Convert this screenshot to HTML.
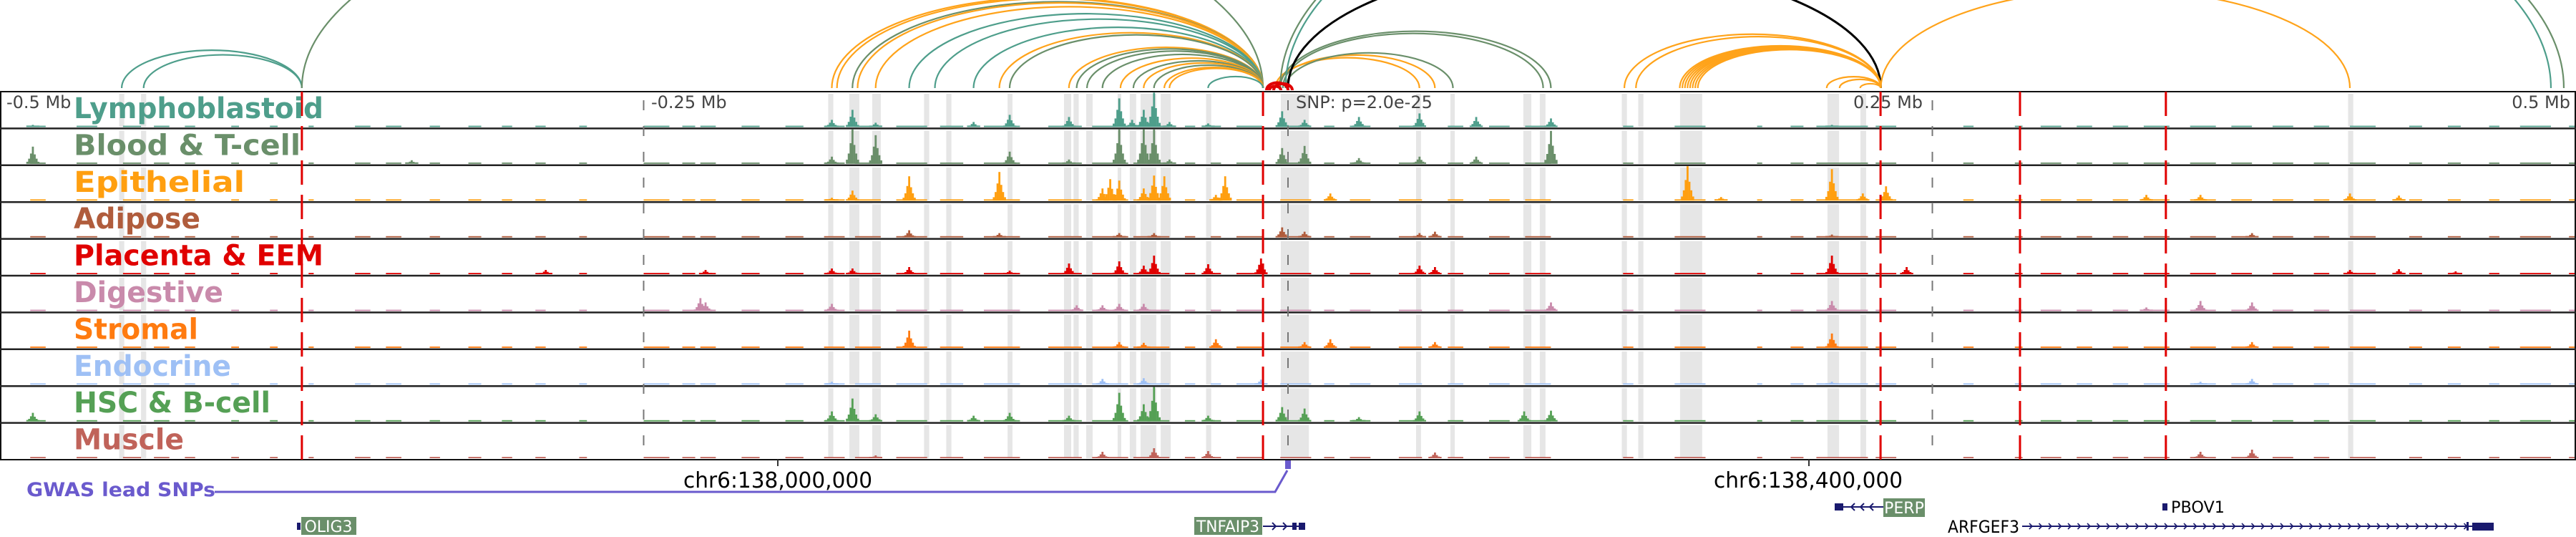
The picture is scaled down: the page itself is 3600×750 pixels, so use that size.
<!DOCTYPE html>
<html><head><meta charset="utf-8">
<style>
html,body{margin:0;padding:0;background:#fff;}
svg{display:block;}
text{font-family:"DejaVu Sans","Liberation Sans",sans-serif;}
</style></head>
<body>
<svg id="fig" width="3600" height="750" viewBox="0 0 3600 750" xmlns="http://www.w3.org/2000/svg">
  <g id="bands"></g>
  <g id="arcs"></g>
  <g id="tracks"></g>
  <g id="frame"></g>
  <g id="labels"></g>
  <g id="genes"></g>
</svg>
<script>
// ---------- data ----------
const trackNames = ["Lymphoblastoid","Blood & T-cell","Epithelial","Adipose","Placenta & EEM","Digestive","Stromal","Endocrine","HSC & B-cell","Muscle"];
const trackColors = ["#4e9e8b","#6a8f6a","#ff9f10","#b05c3c","#e00000","#c98aab","#ff7b10","#9ec0f5","#55a055","#c0635a"];
const labelWidths = [349,317,239,177,349,209,174,220,275,154];
// peaks: [kb offset from SNP, height px]
const peaksLympho = [[-487,3],[-177,10],[-169,24],[-160,6],[-122,7],[-108,17],[-85,14],[-65.5,40],[-60.5,10],[-56,24],[-52,48],[-46,7],[-31,5],[-2.3,22],[6.4,10],[27.5,14],[51,19],[73,14],[102,12],[211,3]];
const peaksBlood = [[-487,24],[-340,5],[-177,10],[-169,48],[-160,40],[-108,17],[-85,6],[-65.5,48],[-56,48],[-52,48],[-46,6],[-2.3,22],[6.4,25],[27.5,8],[51,10],[73,10],[102,46]];
const peaksEpi = [[-177,4],[-169,14],[-147,34],[-112,40],[-72,17],[-69,30],[-65.5,28],[-56,17],[-52,35],[-48,34],[-28,8],[-24.4,34],[16.4,10],[155,48],[168,5],[211,44],[223,10],[232,20],[333,8],[354,8],[412,10],[431,7]];
const peaksAdipose = [[-147,10],[-112,6],[-65.5,6],[-52,6],[-2.3,14],[6.4,8],[51,6],[57,8],[211,4],[374,6]];
const peaksPlacenta = [[-288,6],[-226,6],[-177,8],[-169,8],[-147,10],[-108,5],[-85,15],[-65.5,18],[-56,12],[-52,26],[-31,14],[-10.5,22],[51,12],[57,10],[211,26],[240,10],[412,6],[431,7],[453,4]];
const peaksDigestive = [[-228,18],[-226,12],[-177,10],[-82,8],[-72,8],[-65.5,10],[-56,10],[102,12],[211,14],[333,5],[354,14],[374,12]];
const peaksStromal = [[-147,24],[-65.5,8],[-56,7],[-28,12],[6.4,8],[16.4,12],[57,8],[211,20],[374,8]];
const peaksEndocrine = [[-177,4],[-72,8],[-56,9],[-10.5,7],[211,4],[354,4],[374,8]];
const peaksHSC = [[-487,12],[-177,14],[-169,32],[-160,10],[-122,8],[-108,12],[-85,8],[-65.5,40],[-56,24],[-52,48],[-31,8],[-2.3,20],[6.4,18],[27.5,6],[51,14],[91.6,14],[102,15]];
const peaksMuscle = [[-160,4],[-72,9],[-52,14],[-31,10],[57,8],[354,9],[374,12]];
const trackPeaks = [peaksLympho,peaksBlood,peaksEpi,peaksAdipose,peaksPlacenta,peaksDigestive,peaksStromal,peaksEndocrine,peaksHSC,peaksMuscle];
// low-level coverage spans [startKb, endKb]
const coverageSpans = [[-488,-482],[-470,-462],[-452,-445],[-440,-434],[-428,-424],[-410,-407],[-395,-392],[-380,-378],[-362,-356],[-350,-344],[-333,-329],[-318,-313],[-305,-301],[-292,-288],[-275,-272],[-250,-240],[-235,-230],[-228,-222],[-212,-205],[-195,-188],[-180,-172],[-168,-158],[-152,-140],[-135,-126],[-118,-104],[-93,-80],[-76,-62],[-60,-46],[-40,-36],[-30,-26],[-20,-10],[-3,9],[14,18],[24,32],[43,52],[62,68],[78,86],[92,102],[130,134],[150,162],[182,184],[195,200],[205,225],[228,236],[262,266],[282,285],[292,300],[306,312],[320,326],[332,342],[350,360],[366,374],[382,390],[398,404],[412,422],[435,440],[450,455],[466,470],[478,490],[497,500]];
// gray highlight bands [startKb, endKb]
const bandsKb = [[-453.5,-451.5],[-445,-443],[-178.4,-176.4],[-170.2,-166.3],[-161.3,-158],[-141.2,-139.2],[-132.6,-130.6],[-108.8,-106.9],[-86.9,-84.1],[-83.2,-81.2],[-78.3,-75.8],[-66.1,-64.7],[-61.4,-58.9],[-57.2,-51.1],[-49.4,-45.5],[-31.8,-29.8],[-2.8,8.1],[49.7,51.6],[63,64.7],[91.3,94.4],[97.7,99.9],[129.5,131.5],[135.9,137.9],[152.1,160.7],[209.3,213.8],[222.1,224.3],[411.3,413.3]];
// arcs: start kb, end kb, colour key
const arcStart = [-452.5,-444,-382.6,-177,-175,-169,-167,-160,-147,-137,-122,-112,-108,-85,-82,-78,-72,-65,-60,-56,-52,-48,-46,-31,-5,-4,-3,-2,-1,0,-3,-1,130.5,135,152,153,154,155,156,157,158,159,209,214,222,230];
const arcEnd = [-382.6,-382.6,-9.7,-9.7,-9.7,-9.7,-9.7,-9.7,-9.7,-9.7,-9.7,-9.7,-9.7,-9.7,-9.7,-9.7,-9.7,-9.7,-9.7,-9.7,-9.7,-9.7,-9.7,-9.7,51,57,102,99,64,230,495,490,230,230,230,230,230,230,230,230,230,230,230,230,230,412];
const arcColor = ["t","t","g","o","o","g","o","o","t","t","t","o","g","o","g","g","g","o","g","o","g","o","o","t","o","o","g","g","g","k","g","t","o","o","o","o","o","o","o","o","o","o","o","o","o","o"];
const redLinesKb = [-382.6,-9.7,229.9,284,340.6];
const grayLinesKb = [-250,0,250];

// ---------- helpers ----------
const NS = "http://www.w3.org/2000/svg";
const X0 = 1800, PXKB = 3.602;
function xs(kb){ return X0 + kb*PXKB; }
const TOP = 128, ROWH = 51.4;
function rowTop(i){ return TOP + i*ROWH; }
function mk(tag, attrs, parent){
  const e = document.createElementNS(NS, tag);
  for (const k in attrs) e.setAttribute(k, attrs[k]);
  parent.appendChild(e); return e;
}
const colorMap = {t:"#4e9e8b", g:"#6a8f6a", o:"#ffa31a", k:"#000000"};

// bands
const gB = document.getElementById("bands");
bandsKb.forEach(b => {
  for (let i=0;i<10;i++){
    const r = mk("rect",{x:xs(b[0]),y:rowTop(i)+3,width:Math.max(3,xs(b[1])-xs(b[0])),height:ROWH-5,fill:"#e6e6e6"},gB);
    
    
  }
});

// arcs
const gA = document.getElementById("arcs");
const FOOT = 123;
arcStart.forEach((s,i) => {
  const x1 = xs(s), x2 = xs(arcEnd[i]);
  const rx = (x2-x1)/2, ry = rx*0.42;
  const p = mk("path",{d:`M${x1},${FOOT} A${rx},${ry} 0 0 1 ${x2},${FOOT}`,fill:"none",stroke:colorMap[arcColor[i]],"stroke-width":arcColor[i]==="k"?3:2.2},gA);
  
  
});
// red loops at SNP
[[1774,1790],[1780,1806],[1770,1800]].forEach(l => {
  const p = mk("path",{d:`M${l[0]},126 A${(l[1]-l[0])/2},${(l[1]-l[0])/2*0.7} 0 0 1 ${l[1]},126`,fill:"none",stroke:"#e00000","stroke-width":4},gA);
  
  
});

// tracks
const gT = document.getElementById("tracks");
const shape = [0.12,0.3,0.6,1,0.55,0.3,0.12];
const BIN = 2.6;
trackPeaks.forEach((peaks,i) => {
  const base = rowTop(i) + ROWH - 2;
  const col = trackColors[i];
  const g = mk("g",{fill:col},gT);
  
  
  coverageSpans.forEach(s => {
    mk("rect",{x:xs(s[0]),y:base-1.8,width:xs(s[1])-xs(s[0]),height:1.8},g);
  });
  peaks.forEach(p => {
    const cx = xs(p[0]);
    shape.forEach((f,k) => {
      const h = Math.max(2,p[1]*f);
      const r = mk("rect",{x:cx+(k-3)*BIN-BIN/2,y:base-h,width:BIN+0.2,height:h},g);
      
      
    });
  });
});

// frame, row lines, vertical markers
const gF = document.getElementById("frame");
mk("rect",{x:1,y:TOP,width:3598,height:ROWH*10,fill:"none",stroke:"#111","stroke-width":2},gF);
for (let i=1;i<10;i++) mk("line",{x1:0,x2:3600,y1:rowTop(i),y2:rowTop(i),stroke:"#222","stroke-width":2.5},gF);
grayLinesKb.forEach(k => {
  const l = mk("line",{x1:xs(k),x2:xs(k),y1:TOP+12,y2:TOP+ROWH*10,stroke:"#777","stroke-width":2,"stroke-dasharray":"14,22"},gF);
  
  
});
redLinesKb.forEach(k => {
  const l = mk("line",{x1:xs(k),x2:xs(k),y1:TOP,y2:TOP+ROWH*10,stroke:"#e00000","stroke-width":3,"stroke-dasharray":"34,14"},gF);
  
  
});

// labels
const gL = document.getElementById("labels");
trackNames.forEach((n,i) => {
  const t = mk("text",{x:103,y:rowTop(i)+37,"font-size":40,"font-weight":"bold",fill:trackColors[i],textLength:labelWidths[i],lengthAdjust:"spacingAndGlyphs"},gL);
  t.textContent = n;
  
  
});
const tickLabels = [["-0.5 Mb",9,"start"],["-0.25 Mb",910,"start"],["0.25 Mb",2590,"start"],["0.5 Mb",3592,"end"]];
tickLabels.forEach(tl => {
  const t = mk("text",{x:tl[1],y:151,"font-size":24,fill:"#444","text-anchor":tl[2]},gL);
  t.textContent = tl[0];
  
  
});
const snp = mk("text",{x:1811,y:151,"font-size":24,fill:"#444"},gL);
snp.textContent = "SNP: p=2.0e-25";


</script>
<svg style="position:absolute;left:0;top:0" width="3600" height="750" xmlns="http://www.w3.org/2000/svg">
  <text x="37" y="693" font-size="27" font-weight="bold" fill="#6a5acd" font-family="DejaVu Sans, sans-serif" textLength="264" lengthAdjust="spacingAndGlyphs">GWAS lead SNPs</text>
  <polyline points="300,687 1782,687 1799,657" fill="none" stroke="#6a5acd" stroke-width="3"/>
  <rect x="1796" y="643" width="8" height="12" fill="#6a5acd"/>
  <line x1="1087" y1="642" x2="1087" y2="651" stroke="#333" stroke-width="2"/>
  <text x="1087" y="681" font-size="30" text-anchor="middle" fill="#000" font-family="DejaVu Sans, sans-serif" textLength="264" lengthAdjust="spacingAndGlyphs">chr6:138,000,000</text>
  <line x1="2528" y1="642" x2="2528" y2="651" stroke="#333" stroke-width="2"/>
  <text x="2527" y="681" font-size="30" text-anchor="middle" fill="#000" font-family="DejaVu Sans, sans-serif" textLength="264" lengthAdjust="spacingAndGlyphs">chr6:138,400,000</text>
  <!-- OLIG3 -->
  <rect x="415" y="730" width="5" height="10" fill="#1a1a6e"/>
  <rect x="421" y="722" width="77" height="25" fill="#6a8f6a"/>
  <text x="459" y="743" font-size="22" fill="#fff" text-anchor="middle" font-family="DejaVu Sans, sans-serif">OLIG3</text>
  <!-- TNFAIP3 -->
  <rect x="1669" y="722" width="95" height="25" fill="#6a8f6a"/>
  <text x="1716" y="743" font-size="22" fill="#fff" text-anchor="middle" font-family="DejaVu Sans, sans-serif" textLength="88" lengthAdjust="spacingAndGlyphs">TNFAIP3</text>
  <line x1="1765" y1="735" x2="1824" y2="735" stroke="#1a1a6e" stroke-width="2"/>
  <path d="M1778,730 l5,5 l-5,5 M1793,730 l5,5 l-5,5" stroke="#1a1a6e" stroke-width="2" fill="none"/>
  <rect x="1806" y="730" width="6" height="10" fill="#1a1a6e"/>
  <rect x="1815" y="730" width="9" height="10" fill="#1a1a6e"/>
  <!-- PERP -->
  <rect x="2564" y="703" width="12" height="10" fill="#1a1a6e"/>
  <line x1="2576" y1="708" x2="2632" y2="708" stroke="#1a1a6e" stroke-width="2"/>
  <path d="M2592,703 l-5,5 l5,5 M2605,703 l-5,5 l5,5 M2618,703 l-5,5 l5,5" stroke="#1a1a6e" stroke-width="2" fill="none"/>
  <rect x="2632" y="696" width="58" height="26" fill="#6a8f6a"/>
  <text x="2661" y="717" font-size="22" fill="#fff" text-anchor="middle" font-family="DejaVu Sans, sans-serif">PERP</text>
  <!-- PBOV1 -->
  <rect x="3022" y="703" width="7" height="10" fill="#1a1a6e"/>
  <text x="3034" y="716" font-size="22" fill="#000" font-family="DejaVu Sans, sans-serif" textLength="75" lengthAdjust="spacingAndGlyphs">PBOV1</text>
  <!-- ARFGEF3 -->
  <text x="2722" y="744" font-size="24" fill="#000" font-family="DejaVu Sans, sans-serif" textLength="100" lengthAdjust="spacingAndGlyphs">ARFGEF3</text>
  <line x1="2826" y1="735" x2="3456" y2="735" stroke="#1a1a6e" stroke-width="2"/>
  <path id="arfarrows" stroke="#1a1a6e" stroke-width="1.6" fill="none"/>
  <rect x="3455" y="730" width="30" height="11" fill="#1a1a6e"/>
  <rect x="3447" y="729" width="3" height="12" fill="#1a1a6e"/>
</svg>
<script>
(function(){
  let d = "";
  for (let x = 2836; x < 3450; x += 13.5) d += `M${x},731 l4,4 l-4,4 `;
  document.getElementById('arfarrows').setAttribute('d', d);
})();
</script>
</body></html>
